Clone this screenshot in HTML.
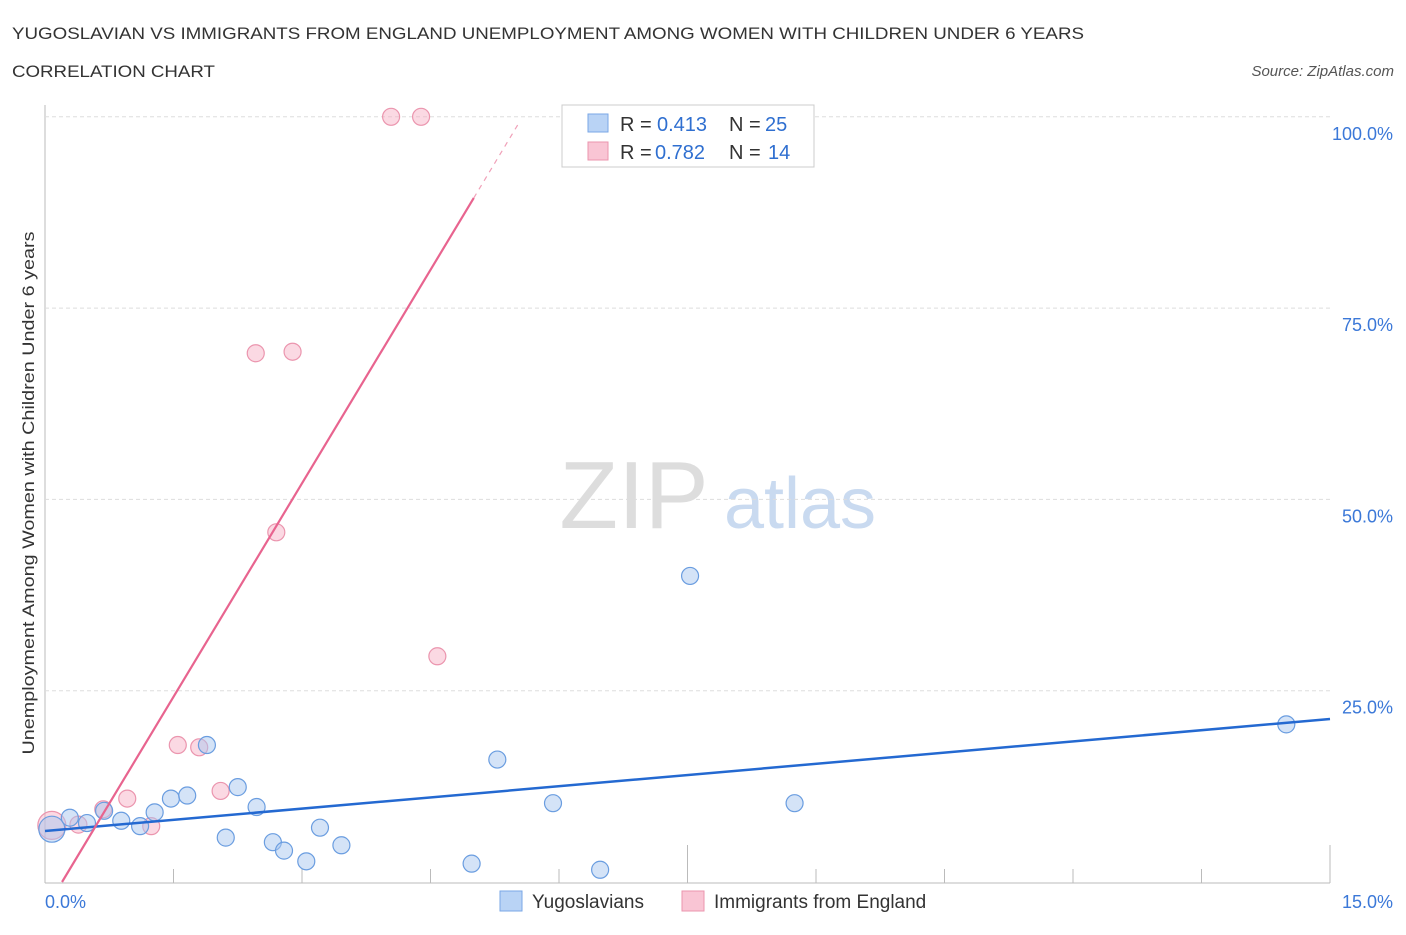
<!DOCTYPE html>
<html><head><meta charset="utf-8">
<style>
body{margin:0;background:#fff;font-family:"Liberation Sans",sans-serif;}
svg text{font-family:"Liberation Sans",sans-serif;}
</style></head>
<body>
<svg id="chart" width="1406" height="930" xmlns="http://www.w3.org/2000/svg">
<text x="12" y="39" font-size="17" fill="#333" textLength="1072" lengthAdjust="spacingAndGlyphs">YUGOSLAVIAN VS IMMIGRANTS FROM ENGLAND UNEMPLOYMENT AMONG WOMEN WITH CHILDREN UNDER 6 YEARS</text>
<text x="12" y="77" font-size="17" fill="#333" textLength="203" lengthAdjust="spacingAndGlyphs">CORRELATION CHART</text>
<text x="1394" y="76" font-size="15" fill="#555" font-style="italic" text-anchor="end">Source: ZipAtlas.com</text>
<text x="634" y="528" font-size="96" fill="#ddd" font-family="Liberation Serif" text-anchor="middle">ZIP</text>
<text x="800" y="528" font-size="72" fill="#c9daf0" text-anchor="middle">atlas</text>
<text transform="translate(34,493) rotate(-90)" font-size="17" fill="#333" text-anchor="middle" textLength="523" lengthAdjust="spacingAndGlyphs">Unemployment Among Women with Children Under 6 years</text>
<g id="grid"></g><g id="marks"></g>
<g>
<rect x="562" y="105" width="252" height="62" fill="#fff" stroke="#ccc"/>
<rect x="588" y="114" width="20" height="18" fill="#b9d3f5" stroke="#7aa7e6"/>
<rect x="588" y="142" width="20" height="18" fill="#f9c5d4" stroke="#eb95ae"/>
<text x="620" y="131" font-size="20" fill="#333">R =</text>
<text x="657" y="131" font-size="20" fill="#2f6fd0">0.413</text>
<text x="729" y="131" font-size="20" fill="#333">N =</text>
<text x="765" y="131" font-size="20" fill="#2f6fd0">25</text>
<text x="620" y="159" font-size="20" fill="#333">R =</text>
<text x="655" y="159" font-size="20" fill="#2f6fd0">0.782</text>
<text x="729" y="159" font-size="20" fill="#333">N =</text>
<text x="768" y="159" font-size="20" fill="#2f6fd0">14</text>
</g>
<g>
<rect x="500" y="891" width="22" height="20" fill="#b9d3f5" stroke="#7aa7e6"/>
<text x="532" y="908" font-size="19" fill="#333">Yugoslavians</text>
<rect x="682" y="891" width="22" height="20" fill="#f9c5d4" stroke="#eb95ae"/>
<text x="714" y="908" font-size="19" fill="#333">Immigrants from England</text>
</g>
</svg>
<script>
const xTicks=[0,15];
const yTicks=[25,50,75,100];
const blueX=[0.08,0.29,0.49,0.69,0.89,1.11,1.28,1.47,1.66,1.89,2.11,2.25,2.47,2.66,2.79,3.05,3.21,3.46,4.98,5.28,5.93,6.48,7.53,8.75,14.49];
const blueY=[6.9,8.4,7.7,9.3,8.0,7.3,9.1,10.9,11.3,17.9,5.8,12.4,9.8,5.2,4.1,2.7,7.1,4.8,2.4,16.0,10.3,1.6,40.0,10.3,20.6];
const pinkX=[0.08,0.39,0.68,0.96,1.24,1.55,1.80,2.05,2.46,2.89,2.70,4.58,4.04,4.39];
const pinkY=[7.4,7.5,9.5,10.9,7.3,17.9,17.6,11.9,69.1,69.3,45.7,29.5,100,100];
const blueTrend=[6.66,21.3];
const pinkTrend=[-3.7,18.6];
const X=v=>45+v*1285/15, Y=v=>882-v*7.652;
const ns="http://www.w3.org/2000/svg";
function mk(parent,tag,attrs){const e=document.createElementNS(ns,tag);for(const k in attrs)e.setAttribute(k,attrs[k]);document.getElementById(parent).appendChild(e);return e;}
let ax=mk('grid','line',{x1:45,y1:105,x2:45,y2:883,stroke:'#bbb'});


ax=mk('grid','line',{x1:45,y1:883,x2:1330,y2:883,stroke:'#bbb'});


for(let i=1;i<=10;i++){const tall=(i==5||i==10);const t=mk('grid','line',{x1:X(i*1.5),x2:X(i*1.5),y1:tall?845:869,y2:883,stroke:'#bbb'});

}
yTicks.forEach(v=>{const g=mk('grid','line',{x1:45,x2:1330,y1:Y(v),y2:Y(v),stroke:'#ddd','stroke-dasharray':'4,3'});


const t=mk('grid','text',{x:1393,y:Y(v)+23,'font-size':18,fill:'#3b78d8','text-anchor':'end'});t.textContent=v.toFixed(1)+'%';

});
xTicks.forEach(v=>{const t=mk('grid','text',{x:v?1393:45,y:908,'font-size':18,fill:'#3b78d8','text-anchor':v?'end':'start'});t.textContent=v.toFixed(1)+'%';

});
pinkX.forEach((x,i)=>{const c=mk('marks','circle',{cx:X(x),cy:Y(pinkY[i]),r:i==0?14:8.5,fill:'rgba(246,170,194,0.45)',stroke:'#eb95ae','stroke-width':1.2});

});
blueX.forEach((x,i)=>{const c=mk('marks','circle',{cx:X(x),cy:Y(blueY[i]),r:i==0?13:8.5,fill:'rgba(170,200,240,0.5)',stroke:'#6a9de0','stroke-width':1.2});

});
let l=mk('marks','line',{x1:X(0),y1:Y(blueTrend[0]),x2:X(15),y2:Y(blueTrend[1]),stroke:'#2469d1','stroke-width':2.5});


const pf=x=>pinkTrend[0]+pinkTrend[1]*x;
const x0=-pinkTrend[0]/pinkTrend[1], x1=(89.4-pinkTrend[0])/pinkTrend[1], x2=(99-pinkTrend[0])/pinkTrend[1];
l=mk('marks','line',{x1:X(x0),y1:Y(pf(x0)),x2:X(x1),y2:Y(pf(x1)),stroke:'#e8648f','stroke-width':2.2});


l=mk('marks','line',{x1:X(x1),y1:Y(pf(x1)),x2:X(x2),y2:Y(pf(x2)),stroke:'#f0a0b8','stroke-width':1.2,'stroke-dasharray':'5,5'});


</script>
</body></html>
